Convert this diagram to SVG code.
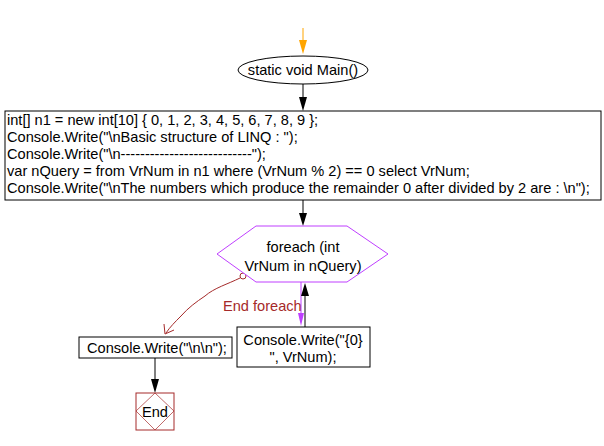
<svg xmlns="http://www.w3.org/2000/svg" width="604" height="446" viewBox="0 0 604 446">
<defs>
<style>
text{font-family:"Liberation Sans",Arial,sans-serif;font-size:14.6px;fill:#000}
.box{fill:#fff;stroke:#000;stroke-width:1}
.ln{fill:none;stroke:#000;stroke-width:1}
.red{fill:none;stroke:#A52A2A;stroke-width:1}
</style>
</defs>
<rect width="604" height="446" fill="#fff"/>
<g id="connectors">
<line x1="303" y1="28" x2="303" y2="42" stroke="#FFA500" stroke-width="1"/>
<path d="M299,40 L307,40 L303,54 Z" fill="#FFA500"/>
<line class="ln" x1="303" y1="84" x2="303" y2="98"/>
<path d="M299,97 L307,97 L303,111 Z" fill="#000"/>
<line class="ln" x1="303" y1="200" x2="303" y2="214"/>
<path d="M299,213 L307,213 L303,226 Z" fill="#000"/>
<line x1="301" y1="282" x2="301" y2="314" stroke="#BF3FFF" stroke-width="1"/>
<path d="M298,313 L304,313 L301,326 Z" fill="#BF3FFF"/>
<line class="ln" x1="305" y1="327" x2="305" y2="295"/>
<path d="M301,296 L309,296 L305,283 Z" fill="#000"/>
<path class="red" d="M240,278 C228,284 214,288 205,296 C196,302 188,308 181,316 C175,322 170,327 166,333"/>
<circle cx="243" cy="276" r="3" fill="#fff" stroke="#A52A2A"/>
<path class="red" d="M164,324 L165,334 L174,330"/>
<text x="223" y="311" style="fill:#A52A2A">End foreach</text>
<line class="ln" x1="155" y1="358" x2="155" y2="380"/>
<path d="M151,379 L159,379 L155,393 Z" fill="#000"/>
</g>
<g id="start">
<ellipse cx="303" cy="70" rx="65" ry="14" class="box"/>
<text x="303" y="75" text-anchor="middle">static void Main()</text>
</g>
<g id="block">
<rect x="5" y="111" width="596" height="89" class="box"/>
<text x="7" y="125">int[] n1 = new int[10] { 0, 1, 2, 3, 4, 5, 6, 7, 8, 9 };</text>
<text x="7" y="142">Console.Write("\nBasic structure of LINQ : ");</text>
<text x="7" y="159">Console.Write("\n---------------------------");</text>
<text x="7" y="176">var nQuery = from VrNum in n1 where (VrNum % 2) == 0 select VrNum;</text>
<text x="7" y="193">Console.Write("\nThe numbers which produce the remainder 0 after divided by 2 are : \n");</text>
</g>
<g id="loop">
<polygon points="217,254 256,226 347,226 388,254 347,282 256,282" fill="#fff" stroke="#BF3FFF"/>
<text x="303" y="252" text-anchor="middle">foreach (int</text>
<text x="303" y="271" text-anchor="middle">VrNum in nQuery)</text>
</g>
<g id="body">
<rect x="237" y="327" width="133" height="40" class="box"/>
<text x="303" y="345" text-anchor="middle">Console.Write("{0}</text>
<text x="303" y="362" text-anchor="middle">", VrNum);</text>
</g>
<g id="newline">
<rect x="79" y="337" width="153" height="21" class="box"/>
<text x="87" y="353">Console.Write("\n\n");</text>
</g>
<g id="end">
<rect x="136" y="393" width="38" height="37" fill="#fff" stroke="#A52A2A"/>
<polygon points="155,393 174,411 155,430 136,411" fill="none" stroke="#A52A2A" stroke-width="0.7"/>
<text x="155" y="417" text-anchor="middle">End</text>
</g>
</svg>
